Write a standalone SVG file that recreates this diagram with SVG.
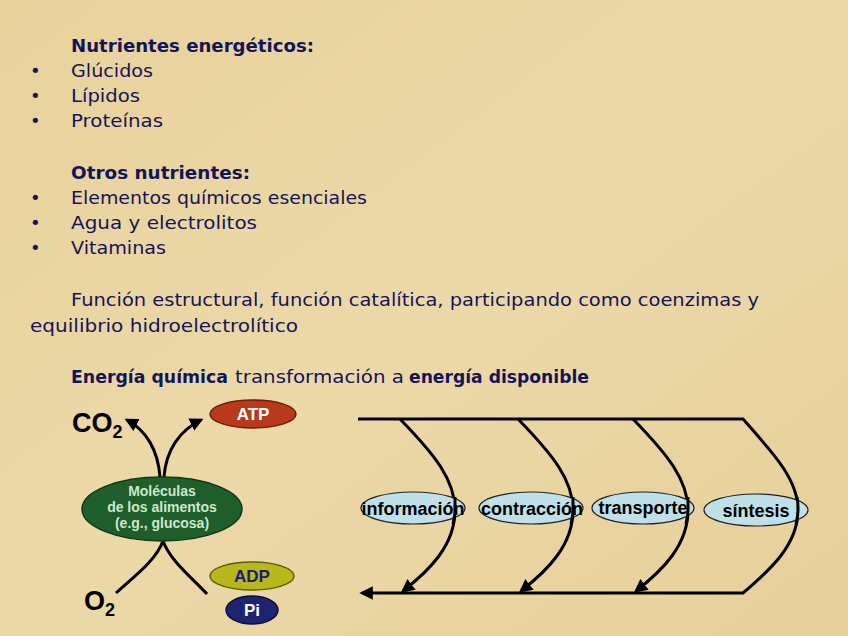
<svg xmlns="http://www.w3.org/2000/svg" width="848" height="636" viewBox="0 0 848 636">
<defs>
<style>
.t{font-family:"DejaVu Sans","Liberation Sans",sans-serif;font-size:18px;fill:#14145a}
.b{font-weight:bold}
.lbl{font-family:"Liberation Sans",Arial,sans-serif;font-weight:bold}
.ln{fill:none;stroke:#000;stroke-width:3}
.blue{fill:#bfe0e8;stroke:#222;stroke-width:1.2}
</style>
<marker id="ah" viewBox="0 0 10 10" refX="8" refY="5" markerWidth="4.5" markerHeight="4.5" orient="auto" markerUnits="strokeWidth">
<path d="M0,0 L10,5 L0,10 z" fill="#000"/>
</marker>
<linearGradient id="bg" x1="0" y1="0" x2="1" y2="1">
<stop offset="0" stop-color="#e8d29c"/>
<stop offset="0.5" stop-color="#ecd9a8"/>
<stop offset="1" stop-color="#e6cf9a"/>
</linearGradient>
</defs>
<rect width="848" height="636" fill="url(#bg)"/>

<g id="text-block">
<text class="t b" x="71" y="52" textLength="243" lengthAdjust="spacingAndGlyphs">Nutrientes energéticos:</text>
<text class="t" x="30" y="77">•</text><text class="t" x="71" y="77" textLength="82" lengthAdjust="spacingAndGlyphs">Glúcidos</text>
<text class="t" x="30" y="102">•</text><text class="t" x="71" y="102" textLength="69" lengthAdjust="spacingAndGlyphs">Lípidos</text>
<text class="t" x="30" y="127">•</text><text class="t" x="71" y="127" textLength="92" lengthAdjust="spacingAndGlyphs">Proteínas</text>
<text class="t b" x="71" y="179" textLength="179" lengthAdjust="spacingAndGlyphs">Otros nutrientes:</text>
<text class="t" x="30" y="204">•</text><text class="t" x="71" y="204" textLength="296" lengthAdjust="spacingAndGlyphs">Elementos químicos esenciales</text>
<text class="t" x="30" y="229">•</text><text class="t" x="71" y="229" textLength="186" lengthAdjust="spacingAndGlyphs">Agua y electrolitos</text>
<text class="t" x="30" y="254">•</text><text class="t" x="71" y="254" textLength="95" lengthAdjust="spacingAndGlyphs">Vitaminas</text>
<text class="t" x="71" y="306" textLength="688" lengthAdjust="spacingAndGlyphs">Función estructural, función catalítica, participando como coenzimas y</text>
<text class="t" x="30" y="332" textLength="268" lengthAdjust="spacingAndGlyphs">equilibrio hidroelectrolítico</text>
<text class="t b" x="71" y="383" textLength="157" lengthAdjust="spacingAndGlyphs">Energía química</text>
<text class="t" x="235" y="383" textLength="169" lengthAdjust="spacingAndGlyphs">transformación a</text>
<text class="t b" x="409" y="383" textLength="180" lengthAdjust="spacingAndGlyphs">energía disponible</text>
</g>

<g id="connectors">
<path class="ln" d="M160,477 C158,450 146,430 127,420" marker-end="url(#ah)"/>
<path class="ln" d="M164,477 C166,450 180,430 201,420" marker-end="url(#ah)"/>
<path class="ln" d="M116,593 C136,575 156,560 163,541"/>
<path class="ln" d="M207,594 C190,576 170,560 163,541"/>
<path class="ln" d="M358,419 H743 C775,455 798,480 798,510 C798,545 770,570 743,593 H362" marker-end="url(#ah)"/>
<path class="ln" d="M400,419 C435,455 455,480 455,510 C455,545 430,570 403,591" marker-end="url(#ah)"/>
<path class="ln" d="M518,419 C553,455 573,480 573,510 C573,545 548,570 521,591" marker-end="url(#ah)"/>
<path class="ln" d="M633,419 C668,455 688,480 688,510 C688,545 663,570 636,591" marker-end="url(#ah)"/>
</g>

<g id="co2"><text class="lbl" x="72" y="432" font-size="27" fill="#000">CO<tspan font-size="18" dy="6">2</tspan></text></g>
<g id="o2"><text class="lbl" x="84" y="610" font-size="27" fill="#000">O<tspan font-size="18" dy="6">2</tspan></text></g>

<g id="moleculas">
<ellipse cx="162" cy="509" rx="80" ry="32" fill="#1e5e2a" stroke="#103a18" stroke-width="1.5"/>
<text class="lbl" x="162" y="496" font-size="14" fill="#cde8cd" text-anchor="middle">Moléculas</text>
<text class="lbl" x="162" y="512" font-size="14" fill="#cde8cd" text-anchor="middle">de los alimentos</text>
<text class="lbl" x="162" y="528" font-size="14" fill="#cde8cd" text-anchor="middle">(e.g., glucosa)</text>
</g>

<g id="atp">
<ellipse cx="253" cy="414" rx="43" ry="14" fill="#b83a1c" stroke="#6e1e0c" stroke-width="1.5"/>
<text class="lbl" x="253" y="420" font-size="17" fill="#fff" text-anchor="middle">ATP</text>
</g>
<g id="adp">
<ellipse cx="252" cy="576" rx="42" ry="14" fill="#b8b81c" stroke="#5e5e08" stroke-width="1.5"/>
<text class="lbl" x="252" y="582" font-size="17" fill="#1a1a80" text-anchor="middle">ADP</text>
</g>
<g id="pi">
<ellipse cx="252" cy="610" rx="26" ry="14" fill="#1e2470" stroke="#0c0e3a" stroke-width="1.5"/>
<text class="lbl" x="252" y="616" font-size="17" fill="#fff" text-anchor="middle">Pi</text>
</g>

<g id="informacion">
<ellipse class="blue" cx="413" cy="508" rx="52" ry="16"/>
<text class="lbl" x="413" y="515" font-size="18" fill="#000" text-anchor="middle">información</text>
</g>
<g id="contraccion">
<ellipse class="blue" cx="531" cy="508" rx="52" ry="16"/>
<text class="lbl" x="532" y="515" font-size="18" fill="#000" text-anchor="middle">contracción</text>
</g>
<g id="transporte">
<ellipse class="blue" cx="643" cy="508" rx="51" ry="16"/>
<text class="lbl" x="643" y="514" font-size="18" fill="#000" text-anchor="middle">transporte</text>
</g>
<g id="sintesis">
<ellipse class="blue" cx="756" cy="510" rx="52" ry="16"/>
<text class="lbl" x="756" y="517" font-size="18" fill="#000" text-anchor="middle">síntesis</text>
</g>
<g id="overlay-lines">
<path class="ln" d="M455,497 C455,502 455,506 455,510 C455,516 454,520 453,524"/>
<path class="ln" d="M573,497 C573,502 573,506 573,510 C573,516 572,520 571,524"/>
<path class="ln" d="M688,497 C688,502 688,506 688,510 C688,516 687,520 686,524"/>
<path class="ln" d="M797,497 C798,502 798,506 798,510 C798,516 797,520 796,524"/>
</g>
</svg>
